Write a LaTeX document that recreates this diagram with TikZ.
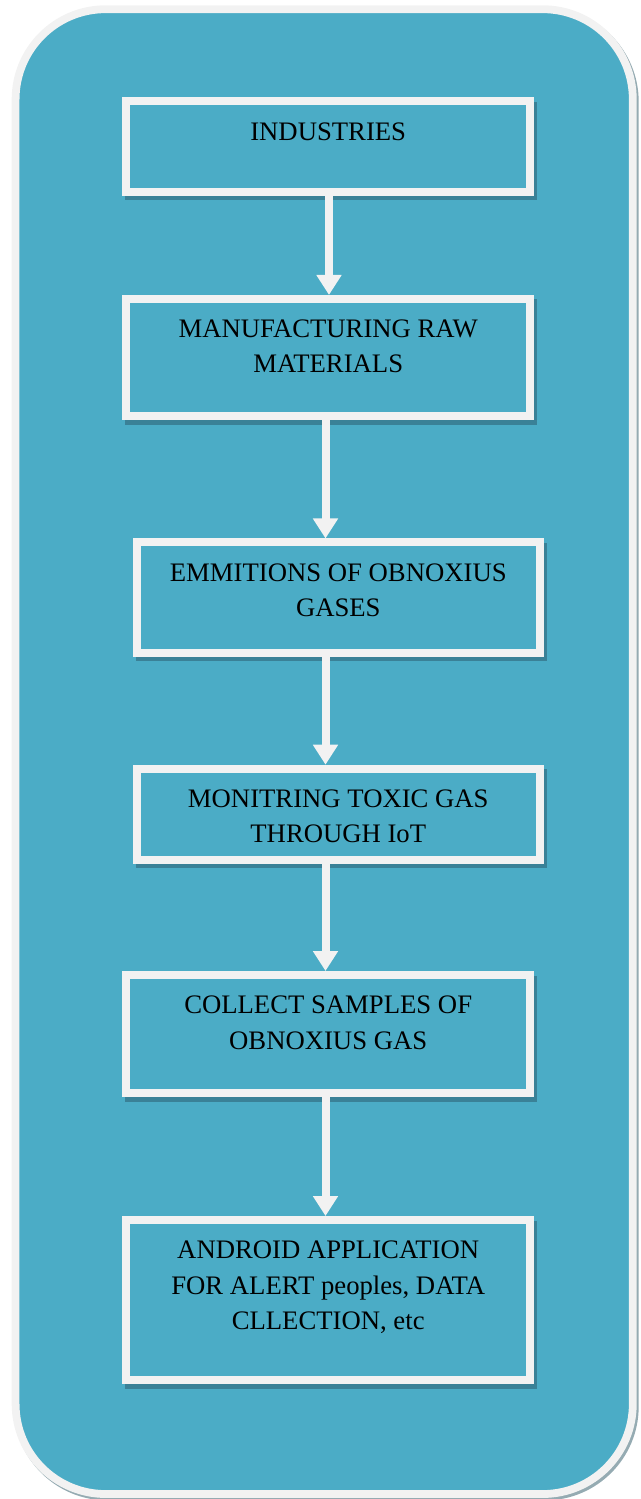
\documentclass[tikz,border=0pt]{standalone}
\usepackage{fontspec}
\setmainfont{Liberation Serif}
\usetikzlibrary{arrows.meta,backgrounds}
\definecolor{panelteal}{HTML}{4BACC6}
\definecolor{rimwhite}{HTML}{F2F2F2}
\definecolor{boxshade}{HTML}{3A8197}
\definecolor{panelshade}{HTML}{95ABB2}
\tikzset{
  stepbox/.style={draw=rimwhite,line width=0.16cm,fill=panelteal,
                  minimum width=8.07cm,inner sep=0pt},
  steptext/.style={anchor=north,align=center,text=black,inner sep=0pt,
                   font=\fontsize{15.2}{20}\selectfont},
  flow/.style={draw=rimwhite,line width=0.16cm,
               -{Triangle[width=0.48cm,length=0.4cm]}},
}

\begin{document}
\begin{tikzpicture}[x=0.02cm,y=-0.02cm]
  \useasboundingbox (0,0) rectangle (641,1499);
  % boxes, centres in pixels
  \node[stepbox,minimum height=1.81cm] (b1) at (328.2,146.5) {};
  \node[stepbox,minimum height=2.35cm] (b2) at (328.2,357.7) {};
  \node[stepbox,minimum height=2.21cm] (b3) at (338.3,597.7) {};
  \node[stepbox,minimum height=1.82cm] (b4) at (338.3,814.2) {};
  \node[stepbox,minimum height=2.36cm] (b5) at (328.2,1034) {};
  \node[stepbox,minimum height=3.20cm] (b6) at (328.2,1300) {};
  \node[steptext] (t1) at ([shift={(0,25.5)}]b1.north) {INDUSTRIES};
  \node[steptext] (t2) at ([shift={(0,24.5)}]b2.north) {MANUFACTURING RAW\\MATERIALS};
  \node[steptext] (t3) at ([shift={(0,25)}]b3.north) {EMMITIONS OF OBNOXIUS\\GASES};
  \node[steptext] (t4) at ([shift={(0,24.5)}]b4.north) {MONITRING TOXIC GAS\\THROUGH IoT};
  \node[steptext] (t5) at ([shift={(0,24.8)}]b5.north) {COLLECT SAMPLES OF\\OBNOXIUS GAS};
  \node[steptext] (t6) at ([shift={(0,24.8)}]b6.north) {ANDROID APPLICATION\\FOR ALERT peoples, DATA\\CLLECTION, etc};
  % arrows
  \coordinate (spine) at (325.5,0);
  \draw[flow] (b1.south -| 329,0) -- (b2.north -| 329,0);
  \foreach \a/\b in {b2/b3, b3/b4, b4/b5, b5/b6}
    \draw[flow] (\a.south -| spine) -- (\b.north -| spine);
  \begin{scope}[on background layer]
    \draw[panelshade,line width=0.156cm,rounded corners=1.8cm]
      (17.6,11.7) rectangle (634.8,1496.5);
    \draw[rimwhite,fill=panelteal,line width=0.156cm,rounded corners=1.8cm]
      (15.6,9.2) rectangle (632.8,1494);
    \foreach \b in {b1,b2,b3,b4,b5,b6}
      \fill[boxshade] ([shift={(3,4.5)}]\b.north west) rectangle ([shift={(3,4.5)}]\b.south east);
  \end{scope}
\end{tikzpicture}
\end{document}
